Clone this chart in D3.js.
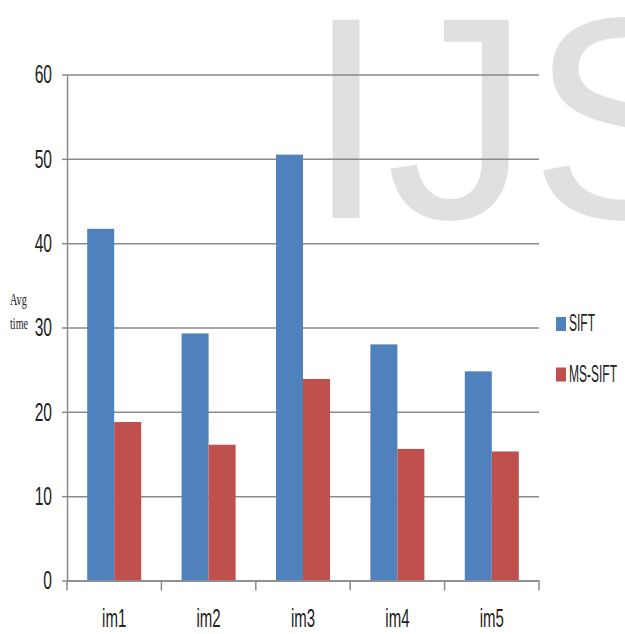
<!DOCTYPE html>
<html>
<head>
<meta charset="utf-8">
<script src="https://cdn.jsdelivr.net/npm/d3@7"></script>
<style>
  body { margin: 0; background: #fff; }
  svg text { font-family: 'Liberation Sans', Arial, sans-serif; fill: #222; }
  .sq { transform-box: fill-box; }
  .ylab { transform-box: fill-box; transform-origin: 100% 50%; transform: scaleX(0.6); }
  .xlab { transform-box: fill-box; transform-origin: 50% 50%; transform: scaleX(0.6); }
  .leg { transform-box: fill-box; transform-origin: 0% 50%; transform: scaleX(0.5); }
  .ttl { transform-box: fill-box; transform-origin: 0% 50%; transform: scaleX(0.6); }
</style>
</head>
<body>
<div id="graf"></div>
<script>
// datos
const categorias = ['im1', 'im2', 'im3', 'im4', 'im5']
const series = ['SIFT', 'MS-SIFT']
const valSIFT = [41.7, 29.3, 50.5, 28.0, 24.8]
const valMSSIFT = [18.8, 16.1, 23.9, 15.6, 15.3]
const yTicks = [0, 10, 20, 30, 40, 50, 60]
const colores = ['#4f81bd', '#c0504d']

const data = categorias.map((c, i) => ({ cat: c, SIFT: valSIFT[i], 'MS-SIFT': valMSSIFT[i] }))

const anchoTotal = 625
const altoTotal = 634

const margin = { top: 74.5, bottom: 53.5, left: 67, right: 86 }
const ancho = anchoTotal - margin.left - margin.right
const alto = altoTotal - margin.top - margin.bottom

const svg = d3.select('#graf')
  .append('svg')
  .attr('width', anchoTotal)
  .attr('height', altoTotal)

// marca de agua
svg.append('text')
  .attr('x', 306)
  .attr('y', 218)
  .attr('font-size', 288)
  .style('fill', '#e0e0e0')
  .text('IJS')

const g = svg.append('g')
  .attr('transform', `translate(${margin.left}, ${margin.top})`)

const y = d3.scaleLinear()
  .domain([0, 60])
  .range([alto, 0])

const x = d3.scaleBand()
  .domain(categorias)
  .range([0, ancho])

const xs = d3.scaleBand()
  .domain(series)
  .range([0, x.bandwidth()])
  .paddingOuter(0.748)

const color = d3.scaleOrdinal()
  .domain(series)
  .range(colores)

// lineas de la grilla
const grid = g.append('g')
  .call(d3.axisLeft(y).tickValues(yTicks).tickSize(-ancho).tickFormat(''))
grid.select('.domain').remove()
grid.selectAll('line').attr('stroke', '#8a8a8a').attr('stroke-width', 1.5)

// eje y
const yAxisGroup = g.append('g')
  .call(d3.axisLeft(y).tickValues(yTicks).tickSize(5).tickSizeOuter(0).tickPadding(10))
yAxisGroup.select('.domain').attr('stroke', '#8a8a8a').attr('stroke-width', 1.5)
yAxisGroup.selectAll('line').attr('stroke', '#8a8a8a').attr('stroke-width', 1.5)
yAxisGroup.selectAll('text')
  .attr('class', 'ylab')
  .attr('font-size', 26)
  .attr('x', -15)

// barras
const grupos = g.selectAll('.grupo')
  .data(data)
  .enter()
  .append('g')
  .attr('transform', d => `translate(${x(d.cat)}, 0)`)

grupos.selectAll('rect')
  .data(d => series.map(s => ({ serie: s, valor: d[s] })))
  .enter()
  .append('rect')
  .attr('x', d => xs(d.serie))
  .attr('width', xs.bandwidth())
  .attr('y', d => y(d.valor))
  .attr('height', d => alto - y(d.valor))
  .attr('fill', d => color(d.serie))

// eje x
const xAxisGroup = g.append('g')
  .attr('transform', `translate(0, ${alto})`)
  .call(d3.axisBottom(x).tickSize(0).tickSizeOuter(0).tickPadding(0))
xAxisGroup.select('.domain').attr('stroke', '#8a8a8a').attr('stroke-width', 1.5)
xAxisGroup.selectAll('text')
  .attr('class', 'xlab')
  .attr('font-size', 25)
  .attr('y', 47)
  .attr('dy', 0)

// marcas en los limites de cada categoria
const bordes = categorias.map(c => x(c)).concat([ancho])
xAxisGroup.selectAll('.borde')
  .data(bordes)
  .enter()
  .append('line')
  .attr('x1', d => d)
  .attr('x2', d => d)
  .attr('y1', 0)
  .attr('y2', 10)
  .attr('stroke', '#8a8a8a')
  .attr('stroke-width', 1.5)

// titulo eje y
const ttl = svg.append('g')
ttl.selectAll('text')
  .data(['Avg', 'time'])
  .enter()
  .append('text')
  .attr('class', 'ttl')
  .attr('x', 10)
  .attr('y', (d, i) => 305 + i * 24)
  .attr('font-size', 17)
  .style('font-family', "'Liberation Serif', 'Times New Roman', serif")
  .text(d => d)

// leyenda
const leyenda = svg.append('g')
  .attr('transform', 'translate(556, 317)')

const items = leyenda.selectAll('g')
  .data(series)
  .enter()
  .append('g')
  .attr('transform', (d, i) => `translate(0, ${i * 50.5})`)

items.append('rect')
  .attr('width', 10)
  .attr('height', 14)
  .attr('fill', d => color(d))

items.append('text')
  .attr('class', 'leg')
  .attr('x', 13)
  .attr('y', 14)
  .attr('font-size', 24)
  .text(d => d)
</script>
</body>
</html>
